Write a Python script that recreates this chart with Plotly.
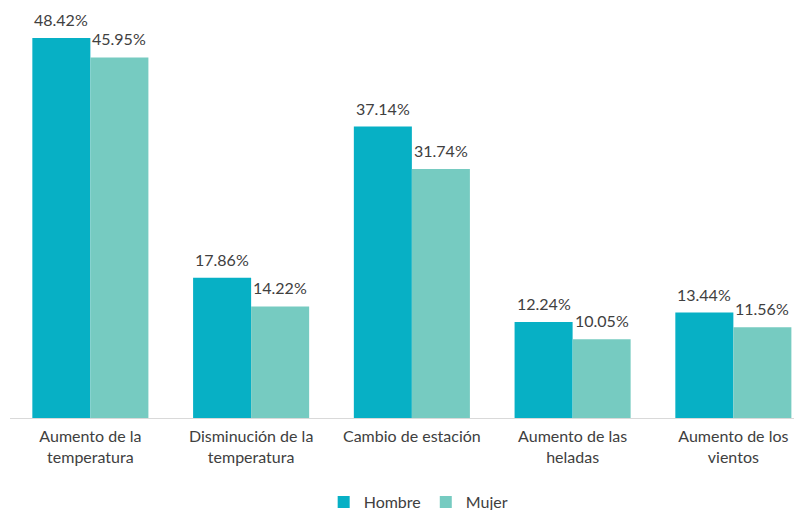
import plotly.graph_objects as go

categories = ["Aumento de la<br>temperatura", "Disminución de la<br>temperatura",
              "Cambio de estación", "Aumento de las<br>heladas", "Aumento de los<br>vientos"]
hombre = [48.42, 17.86, 37.14, 12.24, 13.44]
mujer = [45.95, 14.22, 31.74, 10.05, 11.56]
series_names = ["Hombre", "Mujer"]
colors = ["#07B0C5", "#76CBC1"]
text_color = "#404040"
font_family = "Lato, 'Open Sans', sans-serif"

fig = go.Figure()
for name, vals, col in zip(series_names, [hombre, mujer], colors):
    fig.add_trace(go.Bar(x=categories, y=vals, name=name, marker_color=col,
                         marker_line_width=0))

for vals, shift in [(hombre, -29), (mujer, 29)]:
    for c, v in zip(categories, vals):
        fig.add_annotation(x=c, y=v, text=f"{v:.2f}%", showarrow=False,
                           xshift=shift, yshift=7, yanchor="bottom",
                           font=dict(size=16, color=text_color, family=font_family))

# the page body adds an 8px offset, so the figure is sized to fill the rest of the window
fig.update_layout(
    width=794, height=502,
    margin=dict(l=2, r=0, t=2, b=92, autoexpand=False),
    paper_bgcolor="white", plot_bgcolor="white",
    barmode="group", bargap=0.278, bargroupgap=0,
    font=dict(family=font_family, size=16, color=text_color),
    xaxis=dict(range=[-0.5, 4.427], showline=True, linecolor="#D9D9D9", linewidth=1,
               ticks="outside", ticklen=4, tickcolor="rgba(0,0,0,0)",
               showgrid=False, automargin=False,
               tickfont=dict(size=16, color=text_color)),
    yaxis=dict(range=[0, 52], visible=False, showgrid=False, zeroline=False,
               automargin=False),
    legend=dict(orientation="h", x=0.516, xanchor="center", y=-0.206, yanchor="middle",
                font=dict(size=16, color=text_color), itemwidth=30,
                traceorder="normal"),
)

fig.write_html("out.html")
